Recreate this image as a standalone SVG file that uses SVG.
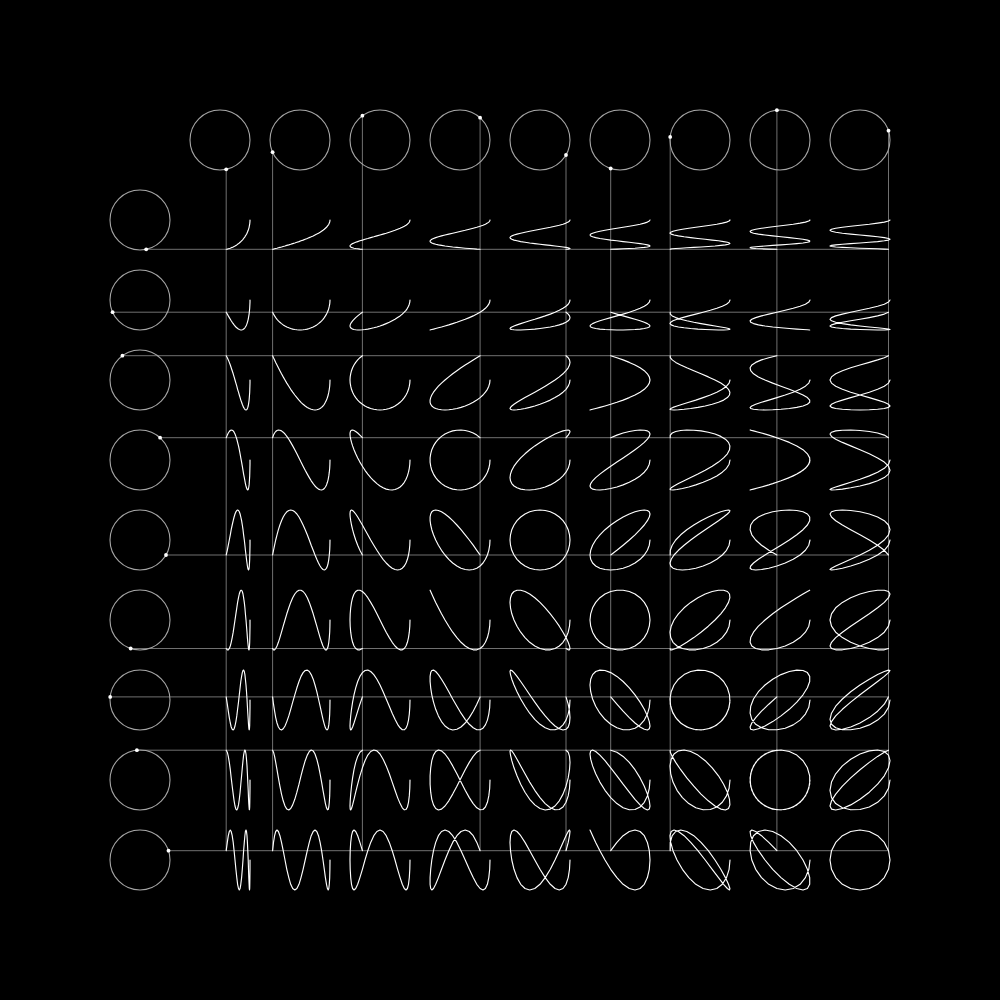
<svg xmlns="http://www.w3.org/2000/svg" width="1000" height="1000" viewBox="0 0 1000 1000">
<style>
.ring{fill:none;stroke:#a6a6a6;stroke-width:1.1}
.dot{fill:#fff}
#connectors line{stroke:#707070;stroke-width:1}
.cv{fill:none;stroke:#fff;stroke-width:1.15;stroke-linejoin:round;stroke-linecap:round}
</style>
<rect width="1000" height="1000" fill="#000"/>
<g id="connectors">
<line x1="226.2" y1="169.3" x2="226.2" y2="850.7"/>
<line x1="272.6" y1="152.2" x2="272.6" y2="850.7"/>
<line x1="362.4" y1="115.7" x2="362.4" y2="850.7"/>
<line x1="480.1" y1="117.7" x2="480.1" y2="850.7"/>
<line x1="566" y1="155" x2="566" y2="850.7"/>
<line x1="610.7" y1="168.5" x2="610.7" y2="850.7"/>
<line x1="670.2" y1="136.9" x2="670.2" y2="850.7"/>
<line x1="776.9" y1="110.2" x2="776.9" y2="850.7"/>
<line x1="888.5" y1="130.7" x2="888.5" y2="850.7"/>
<line x1="146.2" y1="249.3" x2="888.5" y2="249.3"/>
<line x1="112.6" y1="312.2" x2="888.5" y2="312.2"/>
<line x1="122.4" y1="355.7" x2="888.5" y2="355.7"/>
<line x1="160.1" y1="437.7" x2="888.5" y2="437.7"/>
<line x1="166" y1="555" x2="888.5" y2="555"/>
<line x1="130.7" y1="648.5" x2="888.5" y2="648.5"/>
<line x1="110.2" y1="696.9" x2="888.5" y2="696.9"/>
<line x1="136.9" y1="750.2" x2="888.5" y2="750.2"/>
<line x1="168.5" y1="850.7" x2="888.5" y2="850.7"/>
</g>
<g id="col-1"><circle class="ring" cx="220" cy="140" r="30"/><circle class="dot" cx="226.2" cy="169.3" r="1.9"/></g>
<g id="col-2"><circle class="ring" cx="300" cy="140" r="30"/><circle class="dot" cx="272.6" cy="152.2" r="1.9"/></g>
<g id="col-3"><circle class="ring" cx="380" cy="140" r="30"/><circle class="dot" cx="362.4" cy="115.7" r="1.9"/></g>
<g id="col-4"><circle class="ring" cx="460" cy="140" r="30"/><circle class="dot" cx="480.1" cy="117.7" r="1.9"/></g>
<g id="col-5"><circle class="ring" cx="540" cy="140" r="30"/><circle class="dot" cx="566" cy="155" r="1.9"/></g>
<g id="col-6"><circle class="ring" cx="620" cy="140" r="30"/><circle class="dot" cx="610.7" cy="168.5" r="1.9"/></g>
<g id="col-7"><circle class="ring" cx="700" cy="140" r="30"/><circle class="dot" cx="670.2" cy="136.9" r="1.9"/></g>
<g id="col-8"><circle class="ring" cx="780" cy="140" r="30"/><circle class="dot" cx="776.9" cy="110.2" r="1.9"/></g>
<g id="col-9"><circle class="ring" cx="860" cy="140" r="30"/><circle class="dot" cx="888.5" cy="130.7" r="1.9"/></g>
<g id="row-1"><circle class="ring" cx="140" cy="220" r="30"/><circle class="dot" cx="146.2" cy="249.3" r="1.9"/></g>
<g id="row-2"><circle class="ring" cx="140" cy="300" r="30"/><circle class="dot" cx="112.6" cy="312.2" r="1.9"/></g>
<g id="row-3"><circle class="ring" cx="140" cy="380" r="30"/><circle class="dot" cx="122.4" cy="355.7" r="1.9"/></g>
<g id="row-4"><circle class="ring" cx="140" cy="460" r="30"/><circle class="dot" cx="160.1" cy="437.7" r="1.9"/></g>
<g id="row-5"><circle class="ring" cx="140" cy="540" r="30"/><circle class="dot" cx="166" cy="555" r="1.9"/></g>
<g id="row-6"><circle class="ring" cx="140" cy="620" r="30"/><circle class="dot" cx="130.7" cy="648.5" r="1.9"/></g>
<g id="row-7"><circle class="ring" cx="140" cy="700" r="30"/><circle class="dot" cx="110.2" cy="696.9" r="1.9"/></g>
<g id="row-8"><circle class="ring" cx="140" cy="780" r="30"/><circle class="dot" cx="136.9" cy="750.2" r="1.9"/></g>
<g id="row-9"><circle class="ring" cx="140" cy="860" r="30"/><circle class="dot" cx="168.5" cy="850.7" r="1.9"/></g>

<g id="cell-1-1" transform="translate(220,220)"><polyline class="cv" points="30,0 30,1 29.9,2.1 29.8,3.1 29.7,4.2 29.5,5.2 29.3,6.2 29.1,7.3 28.8,8.3 28.5,9.3 28.2,10.3 27.8,11.2 27.4,12.2 27,13.2 26.5,14.1 26,15 25.4,15.9 24.9,16.8 24.3,17.6 23.6,18.5 23,19.3 22.3,20.1 21.6,20.8 20.8,21.6 20.1,22.3 19.3,23 18.5,23.6 17.6,24.3 16.8,24.9 15.9,25.4 15,26 14.1,26.5 13.2,27 12.2,27.4 11.2,27.8 10.3,28.2 9.3,28.5 8.3,28.8 7.3,29.1 6.2,29.3"/></g>
<g id="cell-2-1" transform="translate(300,220)"><polyline class="cv" points="30,0 29.9,1 29.7,2.1 29.3,3.1 28.8,4.2 28.2,5.2 27.4,6.2 26.5,7.3 25.4,8.3 24.3,9.3 23,10.3 21.6,11.2 20.1,12.2 18.5,13.2 16.8,14.1 15,15 13.2,15.9 11.2,16.8 9.3,17.6 7.3,18.5 5.2,19.3 3.1,20.1 1,20.8 -1,21.6 -3.1,22.3 -5.2,23 -7.3,23.6 -9.3,24.3 -11.2,24.9 -13.2,25.4 -15,26 -16.8,26.5 -18.5,27 -20.1,27.4 -21.6,27.8 -23,28.2 -24.3,28.5 -25.4,28.8 -26.5,29.1 -27.4,29.3"/></g>
<g id="cell-3-1" transform="translate(380,220)"><polyline class="cv" points="30,0 29.8,1 29.3,2.1 28.5,3.1 27.4,4.2 26,5.2 24.3,6.2 22.3,7.3 20.1,8.3 17.6,9.3 15,10.3 12.2,11.2 9.3,12.2 6.2,13.2 3.1,14.1 0,15 -3.1,15.9 -6.2,16.8 -9.3,17.6 -12.2,18.5 -15,19.3 -17.6,20.1 -20.1,20.8 -22.3,21.6 -24.3,22.3 -26,23 -27.4,23.6 -28.5,24.3 -29.3,24.9 -29.8,25.4 -30,26 -29.8,26.5 -29.3,27 -28.5,27.4 -27.4,27.8 -26,28.2 -24.3,28.5 -22.3,28.8 -20.1,29.1 -17.6,29.3"/></g>
<g id="cell-4-1" transform="translate(460,220)"><polyline class="cv" points="30,0 29.7,1 28.8,2.1 27.4,3.1 25.4,4.2 23,5.2 20.1,6.2 16.8,7.3 13.2,8.3 9.3,9.3 5.2,10.3 1,11.2 -3.1,12.2 -7.3,13.2 -11.2,14.1 -15,15 -18.5,15.9 -21.6,16.8 -24.3,17.6 -26.5,18.5 -28.2,19.3 -29.3,20.1 -29.9,20.8 -29.9,21.6 -29.3,22.3 -28.2,23 -26.5,23.6 -24.3,24.3 -21.6,24.9 -18.5,25.4 -15,26 -11.2,26.5 -7.3,27 -3.1,27.4 1,27.8 5.2,28.2 9.3,28.5 13.2,28.8 16.8,29.1 20.1,29.3"/></g>
<g id="cell-5-1" transform="translate(540,220)"><polyline class="cv" points="30,0 29.5,1 28.2,2.1 26,3.1 23,4.2 19.3,5.2 15,6.2 10.3,7.3 5.2,8.3 0,9.3 -5.2,10.3 -10.3,11.2 -15,12.2 -19.3,13.2 -23,14.1 -26,15 -28.2,15.9 -29.5,16.8 -30,17.6 -29.5,18.5 -28.2,19.3 -26,20.1 -23,20.8 -19.3,21.6 -15,22.3 -10.3,23 -5.2,23.6 0,24.3 5.2,24.9 10.3,25.4 15,26 19.3,26.5 23,27 26,27.4 28.2,27.8 29.5,28.2 30,28.5 29.5,28.8 28.2,29.1 26,29.3"/></g>
<g id="cell-6-1" transform="translate(620,220)"><polyline class="cv" points="30,0 29.3,1 27.4,2.1 24.3,3.1 20.1,4.2 15,5.2 9.3,6.2 3.1,7.3 -3.1,8.3 -9.3,9.3 -15,10.3 -20.1,11.2 -24.3,12.2 -27.4,13.2 -29.3,14.1 -30,15 -29.3,15.9 -27.4,16.8 -24.3,17.6 -20.1,18.5 -15,19.3 -9.3,20.1 -3.1,20.8 3.1,21.6 9.3,22.3 15,23 20.1,23.6 24.3,24.3 27.4,24.9 29.3,25.4 30,26 29.3,26.5 27.4,27 24.3,27.4 20.1,27.8 15,28.2 9.3,28.5 3.1,28.8 -3.1,29.1 -9.3,29.3"/></g>
<g id="cell-7-1" transform="translate(700,220)"><polyline class="cv" points="30,0 29.1,1 26.5,2.1 22.3,3.1 16.8,4.2 10.3,5.2 3.1,6.2 -4.2,7.3 -11.2,8.3 -17.6,9.3 -23,10.3 -27,11.2 -29.3,12.2 -30,13.2 -28.8,14.1 -26,15 -21.6,15.9 -15.9,16.8 -9.3,17.6 -2.1,18.5 5.2,19.3 12.2,20.1 18.5,20.8 23.6,21.6 27.4,22.3 29.5,23 29.9,23.6 28.5,24.3 25.4,24.9 20.8,25.4 15,26 8.3,26.5 1,27 -6.2,27.4 -13.2,27.8 -19.3,28.2 -24.3,28.5 -27.8,28.8 -29.7,29.1 -29.8,29.3"/></g>
<g id="cell-8-1" transform="translate(780,220)"><polyline class="cv" points="30,0 28.8,1 25.4,2.1 20.1,3.1 13.2,4.2 5.2,5.2 -3.1,6.2 -11.2,7.3 -18.5,8.3 -24.3,9.3 -28.2,10.3 -29.9,11.2 -29.3,12.2 -26.5,13.2 -21.6,14.1 -15,15 -7.3,15.9 1,16.8 9.3,17.6 16.8,18.5 23,19.3 27.4,20.1 29.7,20.8 29.7,21.6 27.4,22.3 23,23 16.8,23.6 9.3,24.3 1,24.9 -7.3,25.4 -15,26 -21.6,26.5 -26.5,27 -29.3,27.4 -29.9,27.8 -28.2,28.2 -24.3,28.5 -18.5,28.8 -11.2,29.1 -3.1,29.3"/></g>
<g id="cell-9-1" transform="translate(860,220)"><polyline class="cv" points="30,0 28.5,1 24.3,2.1 17.6,3.1 9.3,4.2 0,5.2 -9.3,6.2 -17.6,7.3 -24.3,8.3 -28.5,9.3 -30,10.3 -28.5,11.2 -24.3,12.2 -17.6,13.2 -9.3,14.1 0,15 9.3,15.9 17.6,16.8 24.3,17.6 28.5,18.5 30,19.3 28.5,20.1 24.3,20.8 17.6,21.6 9.3,22.3 0,23 -9.3,23.6 -17.6,24.3 -24.3,24.9 -28.5,25.4 -30,26 -28.5,26.5 -24.3,27 -17.6,27.4 -9.3,27.8 0,28.2 9.3,28.5 17.6,28.8 24.3,29.1 28.5,29.3"/></g>

<g id="cell-1-2" transform="translate(220,300)"><polyline class="cv" points="30,0 30,2.1 29.9,4.2 29.8,6.2 29.7,8.3 29.5,10.3 29.3,12.2 29.1,14.1 28.8,15.9 28.5,17.6 28.2,19.3 27.8,20.8 27.4,22.3 27,23.6 26.5,24.9 26,26 25.4,27 24.9,27.8 24.3,28.5 23.6,29.1 23,29.5 22.3,29.8 21.6,30 20.8,30 20.1,29.8 19.3,29.5 18.5,29.1 17.6,28.5 16.8,27.8 15.9,27 15,26 14.1,24.9 13.2,23.6 12.2,22.3 11.2,20.8 10.3,19.3 9.3,17.6 8.3,15.9 7.3,14.1 6.2,12.2"/></g>
<g id="cell-2-2" transform="translate(300,300)"><polyline class="cv" points="30,0 29.9,2.1 29.7,4.2 29.3,6.2 28.8,8.3 28.2,10.3 27.4,12.2 26.5,14.1 25.4,15.9 24.3,17.6 23,19.3 21.6,20.8 20.1,22.3 18.5,23.6 16.8,24.9 15,26 13.2,27 11.2,27.8 9.3,28.5 7.3,29.1 5.2,29.5 3.1,29.8 1,30 -1,30 -3.1,29.8 -5.2,29.5 -7.3,29.1 -9.3,28.5 -11.2,27.8 -13.2,27 -15,26 -16.8,24.9 -18.5,23.6 -20.1,22.3 -21.6,20.8 -23,19.3 -24.3,17.6 -25.4,15.9 -26.5,14.1 -27.4,12.2"/></g>
<g id="cell-3-2" transform="translate(380,300)"><polyline class="cv" points="30,0 29.8,2.1 29.3,4.2 28.5,6.2 27.4,8.3 26,10.3 24.3,12.2 22.3,14.1 20.1,15.9 17.6,17.6 15,19.3 12.2,20.8 9.3,22.3 6.2,23.6 3.1,24.9 0,26 -3.1,27 -6.2,27.8 -9.3,28.5 -12.2,29.1 -15,29.5 -17.6,29.8 -20.1,30 -22.3,30 -24.3,29.8 -26,29.5 -27.4,29.1 -28.5,28.5 -29.3,27.8 -29.8,27 -30,26 -29.8,24.9 -29.3,23.6 -28.5,22.3 -27.4,20.8 -26,19.3 -24.3,17.6 -22.3,15.9 -20.1,14.1 -17.6,12.2"/></g>
<g id="cell-4-2" transform="translate(460,300)"><polyline class="cv" points="30,0 29.7,2.1 28.8,4.2 27.4,6.2 25.4,8.3 23,10.3 20.1,12.2 16.8,14.1 13.2,15.9 9.3,17.6 5.2,19.3 1,20.8 -3.1,22.3 -7.3,23.6 -11.2,24.9 -15,26 -18.5,27 -21.6,27.8 -24.3,28.5 -26.5,29.1 -28.2,29.5 -29.3,29.8 -29.9,30 -29.9,30 -29.3,29.8 -28.2,29.5 -26.5,29.1 -24.3,28.5 -21.6,27.8 -18.5,27 -15,26 -11.2,24.9 -7.3,23.6 -3.1,22.3 1,20.8 5.2,19.3 9.3,17.6 13.2,15.9 16.8,14.1 20.1,12.2"/></g>
<g id="cell-5-2" transform="translate(540,300)"><polyline class="cv" points="30,0 29.5,2.1 28.2,4.2 26,6.2 23,8.3 19.3,10.3 15,12.2 10.3,14.1 5.2,15.9 0,17.6 -5.2,19.3 -10.3,20.8 -15,22.3 -19.3,23.6 -23,24.9 -26,26 -28.2,27 -29.5,27.8 -30,28.5 -29.5,29.1 -28.2,29.5 -26,29.8 -23,30 -19.3,30 -15,29.8 -10.3,29.5 -5.2,29.1 0,28.5 5.2,27.8 10.3,27 15,26 19.3,24.9 23,23.6 26,22.3 28.2,20.8 29.5,19.3 30,17.6 29.5,15.9 28.2,14.1 26,12.2"/></g>
<g id="cell-6-2" transform="translate(620,300)"><polyline class="cv" points="30,0 29.3,2.1 27.4,4.2 24.3,6.2 20.1,8.3 15,10.3 9.3,12.2 3.1,14.1 -3.1,15.9 -9.3,17.6 -15,19.3 -20.1,20.8 -24.3,22.3 -27.4,23.6 -29.3,24.9 -30,26 -29.3,27 -27.4,27.8 -24.3,28.5 -20.1,29.1 -15,29.5 -9.3,29.8 -3.1,30 3.1,30 9.3,29.8 15,29.5 20.1,29.1 24.3,28.5 27.4,27.8 29.3,27 30,26 29.3,24.9 27.4,23.6 24.3,22.3 20.1,20.8 15,19.3 9.3,17.6 3.1,15.9 -3.1,14.1 -9.3,12.2"/></g>
<g id="cell-7-2" transform="translate(700,300)"><polyline class="cv" points="30,0 29.1,2.1 26.5,4.2 22.3,6.2 16.8,8.3 10.3,10.3 3.1,12.2 -4.2,14.1 -11.2,15.9 -17.6,17.6 -23,19.3 -27,20.8 -29.3,22.3 -30,23.6 -28.8,24.9 -26,26 -21.6,27 -15.9,27.8 -9.3,28.5 -2.1,29.1 5.2,29.5 12.2,29.8 18.5,30 23.6,30 27.4,29.8 29.5,29.5 29.9,29.1 28.5,28.5 25.4,27.8 20.8,27 15,26 8.3,24.9 1,23.6 -6.2,22.3 -13.2,20.8 -19.3,19.3 -24.3,17.6 -27.8,15.9 -29.7,14.1 -29.8,12.2"/></g>
<g id="cell-8-2" transform="translate(780,300)"><polyline class="cv" points="30,0 28.8,2.1 25.4,4.2 20.1,6.2 13.2,8.3 5.2,10.3 -3.1,12.2 -11.2,14.1 -18.5,15.9 -24.3,17.6 -28.2,19.3 -29.9,20.8 -29.3,22.3 -26.5,23.6 -21.6,24.9 -15,26 -7.3,27 1,27.8 9.3,28.5 16.8,29.1 23,29.5 27.4,29.8 29.7,30 29.7,30 27.4,29.8 23,29.5 16.8,29.1 9.3,28.5 1,27.8 -7.3,27 -15,26 -21.6,24.9 -26.5,23.6 -29.3,22.3 -29.9,20.8 -28.2,19.3 -24.3,17.6 -18.5,15.9 -11.2,14.1 -3.1,12.2"/></g>
<g id="cell-9-2" transform="translate(860,300)"><polyline class="cv" points="30,0 28.5,2.1 24.3,4.2 17.6,6.2 9.3,8.3 0,10.3 -9.3,12.2 -17.6,14.1 -24.3,15.9 -28.5,17.6 -30,19.3 -28.5,20.8 -24.3,22.3 -17.6,23.6 -9.3,24.9 0,26 9.3,27 17.6,27.8 24.3,28.5 28.5,29.1 30,29.5 28.5,29.8 24.3,30 17.6,30 9.3,29.8 0,29.5 -9.3,29.1 -17.6,28.5 -24.3,27.8 -28.5,27 -30,26 -28.5,24.9 -24.3,23.6 -17.6,22.3 -9.3,20.8 0,19.3 9.3,17.6 17.6,15.9 24.3,14.1 28.5,12.2"/></g>

<g id="cell-1-3" transform="translate(220,380)"><polyline class="cv" points="30,0 30,3.1 29.9,6.2 29.8,9.3 29.7,12.2 29.5,15 29.3,17.6 29.1,20.1 28.8,22.3 28.5,24.3 28.2,26 27.8,27.4 27.4,28.5 27,29.3 26.5,29.8 26,30 25.4,29.8 24.9,29.3 24.3,28.5 23.6,27.4 23,26 22.3,24.3 21.6,22.3 20.8,20.1 20.1,17.6 19.3,15 18.5,12.2 17.6,9.3 16.8,6.2 15.9,3.1 15,0 14.1,-3.1 13.2,-6.2 12.2,-9.3 11.2,-12.2 10.3,-15 9.3,-17.6 8.3,-20.1 7.3,-22.3 6.2,-24.3"/></g>
<g id="cell-2-3" transform="translate(300,380)"><polyline class="cv" points="30,0 29.9,3.1 29.7,6.2 29.3,9.3 28.8,12.2 28.2,15 27.4,17.6 26.5,20.1 25.4,22.3 24.3,24.3 23,26 21.6,27.4 20.1,28.5 18.5,29.3 16.8,29.8 15,30 13.2,29.8 11.2,29.3 9.3,28.5 7.3,27.4 5.2,26 3.1,24.3 1,22.3 -1,20.1 -3.1,17.6 -5.2,15 -7.3,12.2 -9.3,9.3 -11.2,6.2 -13.2,3.1 -15,0 -16.8,-3.1 -18.5,-6.2 -20.1,-9.3 -21.6,-12.2 -23,-15 -24.3,-17.6 -25.4,-20.1 -26.5,-22.3 -27.4,-24.3"/></g>
<g id="cell-3-3" transform="translate(380,380)"><polyline class="cv" points="30,0 29.8,3.1 29.3,6.2 28.5,9.3 27.4,12.2 26,15 24.3,17.6 22.3,20.1 20.1,22.3 17.6,24.3 15,26 12.2,27.4 9.3,28.5 6.2,29.3 3.1,29.8 0,30 -3.1,29.8 -6.2,29.3 -9.3,28.5 -12.2,27.4 -15,26 -17.6,24.3 -20.1,22.3 -22.3,20.1 -24.3,17.6 -26,15 -27.4,12.2 -28.5,9.3 -29.3,6.2 -29.8,3.1 -30,0 -29.8,-3.1 -29.3,-6.2 -28.5,-9.3 -27.4,-12.2 -26,-15 -24.3,-17.6 -22.3,-20.1 -20.1,-22.3 -17.6,-24.3"/></g>
<g id="cell-4-3" transform="translate(460,380)"><polyline class="cv" points="30,0 29.7,3.1 28.8,6.2 27.4,9.3 25.4,12.2 23,15 20.1,17.6 16.8,20.1 13.2,22.3 9.3,24.3 5.2,26 1,27.4 -3.1,28.5 -7.3,29.3 -11.2,29.8 -15,30 -18.5,29.8 -21.6,29.3 -24.3,28.5 -26.5,27.4 -28.2,26 -29.3,24.3 -29.9,22.3 -29.9,20.1 -29.3,17.6 -28.2,15 -26.5,12.2 -24.3,9.3 -21.6,6.2 -18.5,3.1 -15,0 -11.2,-3.1 -7.3,-6.2 -3.1,-9.3 1,-12.2 5.2,-15 9.3,-17.6 13.2,-20.1 16.8,-22.3 20.1,-24.3"/></g>
<g id="cell-5-3" transform="translate(540,380)"><polyline class="cv" points="30,0 29.5,3.1 28.2,6.2 26,9.3 23,12.2 19.3,15 15,17.6 10.3,20.1 5.2,22.3 0,24.3 -5.2,26 -10.3,27.4 -15,28.5 -19.3,29.3 -23,29.8 -26,30 -28.2,29.8 -29.5,29.3 -30,28.5 -29.5,27.4 -28.2,26 -26,24.3 -23,22.3 -19.3,20.1 -15,17.6 -10.3,15 -5.2,12.2 0,9.3 5.2,6.2 10.3,3.1 15,0 19.3,-3.1 23,-6.2 26,-9.3 28.2,-12.2 29.5,-15 30,-17.6 29.5,-20.1 28.2,-22.3 26,-24.3"/></g>
<g id="cell-6-3" transform="translate(620,380)"><polyline class="cv" points="30,0 29.3,3.1 27.4,6.2 24.3,9.3 20.1,12.2 15,15 9.3,17.6 3.1,20.1 -3.1,22.3 -9.3,24.3 -15,26 -20.1,27.4 -24.3,28.5 -27.4,29.3 -29.3,29.8 -30,30 -29.3,29.8 -27.4,29.3 -24.3,28.5 -20.1,27.4 -15,26 -9.3,24.3 -3.1,22.3 3.1,20.1 9.3,17.6 15,15 20.1,12.2 24.3,9.3 27.4,6.2 29.3,3.1 30,0 29.3,-3.1 27.4,-6.2 24.3,-9.3 20.1,-12.2 15,-15 9.3,-17.6 3.1,-20.1 -3.1,-22.3 -9.3,-24.3"/></g>
<g id="cell-7-3" transform="translate(700,380)"><polyline class="cv" points="30,0 29.1,3.1 26.5,6.2 22.3,9.3 16.8,12.2 10.3,15 3.1,17.6 -4.2,20.1 -11.2,22.3 -17.6,24.3 -23,26 -27,27.4 -29.3,28.5 -30,29.3 -28.8,29.8 -26,30 -21.6,29.8 -15.9,29.3 -9.3,28.5 -2.1,27.4 5.2,26 12.2,24.3 18.5,22.3 23.6,20.1 27.4,17.6 29.5,15 29.9,12.2 28.5,9.3 25.4,6.2 20.8,3.1 15,0 8.3,-3.1 1,-6.2 -6.2,-9.3 -13.2,-12.2 -19.3,-15 -24.3,-17.6 -27.8,-20.1 -29.7,-22.3 -29.8,-24.3"/></g>
<g id="cell-8-3" transform="translate(780,380)"><polyline class="cv" points="30,0 28.8,3.1 25.4,6.2 20.1,9.3 13.2,12.2 5.2,15 -3.1,17.6 -11.2,20.1 -18.5,22.3 -24.3,24.3 -28.2,26 -29.9,27.4 -29.3,28.5 -26.5,29.3 -21.6,29.8 -15,30 -7.3,29.8 1,29.3 9.3,28.5 16.8,27.4 23,26 27.4,24.3 29.7,22.3 29.7,20.1 27.4,17.6 23,15 16.8,12.2 9.3,9.3 1,6.2 -7.3,3.1 -15,0 -21.6,-3.1 -26.5,-6.2 -29.3,-9.3 -29.9,-12.2 -28.2,-15 -24.3,-17.6 -18.5,-20.1 -11.2,-22.3 -3.1,-24.3"/></g>
<g id="cell-9-3" transform="translate(860,380)"><polyline class="cv" points="30,0 28.5,3.1 24.3,6.2 17.6,9.3 9.3,12.2 0,15 -9.3,17.6 -17.6,20.1 -24.3,22.3 -28.5,24.3 -30,26 -28.5,27.4 -24.3,28.5 -17.6,29.3 -9.3,29.8 0,30 9.3,29.8 17.6,29.3 24.3,28.5 28.5,27.4 30,26 28.5,24.3 24.3,22.3 17.6,20.1 9.3,17.6 0,15 -9.3,12.2 -17.6,9.3 -24.3,6.2 -28.5,3.1 -30,0 -28.5,-3.1 -24.3,-6.2 -17.6,-9.3 -9.3,-12.2 0,-15 9.3,-17.6 17.6,-20.1 24.3,-22.3 28.5,-24.3"/></g>

<g id="cell-1-4" transform="translate(220,460)"><polyline class="cv" points="30,0 30,4.2 29.9,8.3 29.8,12.2 29.7,15.9 29.5,19.3 29.3,22.3 29.1,24.9 28.8,27 28.5,28.5 28.2,29.5 27.8,30 27.4,29.8 27,29.1 26.5,27.8 26,26 25.4,23.6 24.9,20.8 24.3,17.6 23.6,14.1 23,10.3 22.3,6.2 21.6,2.1 20.8,-2.1 20.1,-6.2 19.3,-10.3 18.5,-14.1 17.6,-17.6 16.8,-20.8 15.9,-23.6 15,-26 14.1,-27.8 13.2,-29.1 12.2,-29.8 11.2,-30 10.3,-29.5 9.3,-28.5 8.3,-27 7.3,-24.9 6.2,-22.3"/></g>
<g id="cell-2-4" transform="translate(300,460)"><polyline class="cv" points="30,0 29.9,4.2 29.7,8.3 29.3,12.2 28.8,15.9 28.2,19.3 27.4,22.3 26.5,24.9 25.4,27 24.3,28.5 23,29.5 21.6,30 20.1,29.8 18.5,29.1 16.8,27.8 15,26 13.2,23.6 11.2,20.8 9.3,17.6 7.3,14.1 5.2,10.3 3.1,6.2 1,2.1 -1,-2.1 -3.1,-6.2 -5.2,-10.3 -7.3,-14.1 -9.3,-17.6 -11.2,-20.8 -13.2,-23.6 -15,-26 -16.8,-27.8 -18.5,-29.1 -20.1,-29.8 -21.6,-30 -23,-29.5 -24.3,-28.5 -25.4,-27 -26.5,-24.9 -27.4,-22.3"/></g>
<g id="cell-3-4" transform="translate(380,460)"><polyline class="cv" points="30,0 29.8,4.2 29.3,8.3 28.5,12.2 27.4,15.9 26,19.3 24.3,22.3 22.3,24.9 20.1,27 17.6,28.5 15,29.5 12.2,30 9.3,29.8 6.2,29.1 3.1,27.8 0,26 -3.1,23.6 -6.2,20.8 -9.3,17.6 -12.2,14.1 -15,10.3 -17.6,6.2 -20.1,2.1 -22.3,-2.1 -24.3,-6.2 -26,-10.3 -27.4,-14.1 -28.5,-17.6 -29.3,-20.8 -29.8,-23.6 -30,-26 -29.8,-27.8 -29.3,-29.1 -28.5,-29.8 -27.4,-30 -26,-29.5 -24.3,-28.5 -22.3,-27 -20.1,-24.9 -17.6,-22.3"/></g>
<g id="cell-4-4" transform="translate(460,460)"><polyline class="cv" points="30,0 29.7,4.2 28.8,8.3 27.4,12.2 25.4,15.9 23,19.3 20.1,22.3 16.8,24.9 13.2,27 9.3,28.5 5.2,29.5 1,30 -3.1,29.8 -7.3,29.1 -11.2,27.8 -15,26 -18.5,23.6 -21.6,20.8 -24.3,17.6 -26.5,14.1 -28.2,10.3 -29.3,6.2 -29.9,2.1 -29.9,-2.1 -29.3,-6.2 -28.2,-10.3 -26.5,-14.1 -24.3,-17.6 -21.6,-20.8 -18.5,-23.6 -15,-26 -11.2,-27.8 -7.3,-29.1 -3.1,-29.8 1,-30 5.2,-29.5 9.3,-28.5 13.2,-27 16.8,-24.9 20.1,-22.3"/></g>
<g id="cell-5-4" transform="translate(540,460)"><polyline class="cv" points="30,0 29.5,4.2 28.2,8.3 26,12.2 23,15.9 19.3,19.3 15,22.3 10.3,24.9 5.2,27 0,28.5 -5.2,29.5 -10.3,30 -15,29.8 -19.3,29.1 -23,27.8 -26,26 -28.2,23.6 -29.5,20.8 -30,17.6 -29.5,14.1 -28.2,10.3 -26,6.2 -23,2.1 -19.3,-2.1 -15,-6.2 -10.3,-10.3 -5.2,-14.1 0,-17.6 5.2,-20.8 10.3,-23.6 15,-26 19.3,-27.8 23,-29.1 26,-29.8 28.2,-30 29.5,-29.5 30,-28.5 29.5,-27 28.2,-24.9 26,-22.3"/></g>
<g id="cell-6-4" transform="translate(620,460)"><polyline class="cv" points="30,0 29.3,4.2 27.4,8.3 24.3,12.2 20.1,15.9 15,19.3 9.3,22.3 3.1,24.9 -3.1,27 -9.3,28.5 -15,29.5 -20.1,30 -24.3,29.8 -27.4,29.1 -29.3,27.8 -30,26 -29.3,23.6 -27.4,20.8 -24.3,17.6 -20.1,14.1 -15,10.3 -9.3,6.2 -3.1,2.1 3.1,-2.1 9.3,-6.2 15,-10.3 20.1,-14.1 24.3,-17.6 27.4,-20.8 29.3,-23.6 30,-26 29.3,-27.8 27.4,-29.1 24.3,-29.8 20.1,-30 15,-29.5 9.3,-28.5 3.1,-27 -3.1,-24.9 -9.3,-22.3"/></g>
<g id="cell-7-4" transform="translate(700,460)"><polyline class="cv" points="30,0 29.1,4.2 26.5,8.3 22.3,12.2 16.8,15.9 10.3,19.3 3.1,22.3 -4.2,24.9 -11.2,27 -17.6,28.5 -23,29.5 -27,30 -29.3,29.8 -30,29.1 -28.8,27.8 -26,26 -21.6,23.6 -15.9,20.8 -9.3,17.6 -2.1,14.1 5.2,10.3 12.2,6.2 18.5,2.1 23.6,-2.1 27.4,-6.2 29.5,-10.3 29.9,-14.1 28.5,-17.6 25.4,-20.8 20.8,-23.6 15,-26 8.3,-27.8 1,-29.1 -6.2,-29.8 -13.2,-30 -19.3,-29.5 -24.3,-28.5 -27.8,-27 -29.7,-24.9 -29.8,-22.3"/></g>
<g id="cell-8-4" transform="translate(780,460)"><polyline class="cv" points="30,0 28.8,4.2 25.4,8.3 20.1,12.2 13.2,15.9 5.2,19.3 -3.1,22.3 -11.2,24.9 -18.5,27 -24.3,28.5 -28.2,29.5 -29.9,30 -29.3,29.8 -26.5,29.1 -21.6,27.8 -15,26 -7.3,23.6 1,20.8 9.3,17.6 16.8,14.1 23,10.3 27.4,6.2 29.7,2.1 29.7,-2.1 27.4,-6.2 23,-10.3 16.8,-14.1 9.3,-17.6 1,-20.8 -7.3,-23.6 -15,-26 -21.6,-27.8 -26.5,-29.1 -29.3,-29.8 -29.9,-30 -28.2,-29.5 -24.3,-28.5 -18.5,-27 -11.2,-24.9 -3.1,-22.3"/></g>
<g id="cell-9-4" transform="translate(860,460)"><polyline class="cv" points="30,0 28.5,4.2 24.3,8.3 17.6,12.2 9.3,15.9 0,19.3 -9.3,22.3 -17.6,24.9 -24.3,27 -28.5,28.5 -30,29.5 -28.5,30 -24.3,29.8 -17.6,29.1 -9.3,27.8 0,26 9.3,23.6 17.6,20.8 24.3,17.6 28.5,14.1 30,10.3 28.5,6.2 24.3,2.1 17.6,-2.1 9.3,-6.2 0,-10.3 -9.3,-14.1 -17.6,-17.6 -24.3,-20.8 -28.5,-23.6 -30,-26 -28.5,-27.8 -24.3,-29.1 -17.6,-29.8 -9.3,-30 0,-29.5 9.3,-28.5 17.6,-27 24.3,-24.9 28.5,-22.3"/></g>

<g id="cell-1-5" transform="translate(220,540)"><polyline class="cv" points="30,0 30,5.2 29.9,10.3 29.8,15 29.7,19.3 29.5,23 29.3,26 29.1,28.2 28.8,29.5 28.5,30 28.2,29.5 27.8,28.2 27.4,26 27,23 26.5,19.3 26,15 25.4,10.3 24.9,5.2 24.3,0 23.6,-5.2 23,-10.3 22.3,-15 21.6,-19.3 20.8,-23 20.1,-26 19.3,-28.2 18.5,-29.5 17.6,-30 16.8,-29.5 15.9,-28.2 15,-26 14.1,-23 13.2,-19.3 12.2,-15 11.2,-10.3 10.3,-5.2 9.3,0 8.3,5.2 7.3,10.3 6.2,15"/></g>
<g id="cell-2-5" transform="translate(300,540)"><polyline class="cv" points="30,0 29.9,5.2 29.7,10.3 29.3,15 28.8,19.3 28.2,23 27.4,26 26.5,28.2 25.4,29.5 24.3,30 23,29.5 21.6,28.2 20.1,26 18.5,23 16.8,19.3 15,15 13.2,10.3 11.2,5.2 9.3,0 7.3,-5.2 5.2,-10.3 3.1,-15 1,-19.3 -1,-23 -3.1,-26 -5.2,-28.2 -7.3,-29.5 -9.3,-30 -11.2,-29.5 -13.2,-28.2 -15,-26 -16.8,-23 -18.5,-19.3 -20.1,-15 -21.6,-10.3 -23,-5.2 -24.3,0 -25.4,5.2 -26.5,10.3 -27.4,15"/></g>
<g id="cell-3-5" transform="translate(380,540)"><polyline class="cv" points="30,0 29.8,5.2 29.3,10.3 28.5,15 27.4,19.3 26,23 24.3,26 22.3,28.2 20.1,29.5 17.6,30 15,29.5 12.2,28.2 9.3,26 6.2,23 3.1,19.3 0,15 -3.1,10.3 -6.2,5.2 -9.3,0 -12.2,-5.2 -15,-10.3 -17.6,-15 -20.1,-19.3 -22.3,-23 -24.3,-26 -26,-28.2 -27.4,-29.5 -28.5,-30 -29.3,-29.5 -29.8,-28.2 -30,-26 -29.8,-23 -29.3,-19.3 -28.5,-15 -27.4,-10.3 -26,-5.2 -24.3,0 -22.3,5.2 -20.1,10.3 -17.6,15"/></g>
<g id="cell-4-5" transform="translate(460,540)"><polyline class="cv" points="30,0 29.7,5.2 28.8,10.3 27.4,15 25.4,19.3 23,23 20.1,26 16.8,28.2 13.2,29.5 9.3,30 5.2,29.5 1,28.2 -3.1,26 -7.3,23 -11.2,19.3 -15,15 -18.5,10.3 -21.6,5.2 -24.3,0 -26.5,-5.2 -28.2,-10.3 -29.3,-15 -29.9,-19.3 -29.9,-23 -29.3,-26 -28.2,-28.2 -26.5,-29.5 -24.3,-30 -21.6,-29.5 -18.5,-28.2 -15,-26 -11.2,-23 -7.3,-19.3 -3.1,-15 1,-10.3 5.2,-5.2 9.3,0 13.2,5.2 16.8,10.3 20.1,15"/></g>
<g id="cell-5-5" transform="translate(540,540)"><polyline class="cv" points="30,0 29.5,5.2 28.2,10.3 26,15 23,19.3 19.3,23 15,26 10.3,28.2 5.2,29.5 0,30 -5.2,29.5 -10.3,28.2 -15,26 -19.3,23 -23,19.3 -26,15 -28.2,10.3 -29.5,5.2 -30,0 -29.5,-5.2 -28.2,-10.3 -26,-15 -23,-19.3 -19.3,-23 -15,-26 -10.3,-28.2 -5.2,-29.5 0,-30 5.2,-29.5 10.3,-28.2 15,-26 19.3,-23 23,-19.3 26,-15 28.2,-10.3 29.5,-5.2 30,0 29.5,5.2 28.2,10.3 26,15"/></g>
<g id="cell-6-5" transform="translate(620,540)"><polyline class="cv" points="30,0 29.3,5.2 27.4,10.3 24.3,15 20.1,19.3 15,23 9.3,26 3.1,28.2 -3.1,29.5 -9.3,30 -15,29.5 -20.1,28.2 -24.3,26 -27.4,23 -29.3,19.3 -30,15 -29.3,10.3 -27.4,5.2 -24.3,0 -20.1,-5.2 -15,-10.3 -9.3,-15 -3.1,-19.3 3.1,-23 9.3,-26 15,-28.2 20.1,-29.5 24.3,-30 27.4,-29.5 29.3,-28.2 30,-26 29.3,-23 27.4,-19.3 24.3,-15 20.1,-10.3 15,-5.2 9.3,0 3.1,5.2 -3.1,10.3 -9.3,15"/></g>
<g id="cell-7-5" transform="translate(700,540)"><polyline class="cv" points="30,0 29.1,5.2 26.5,10.3 22.3,15 16.8,19.3 10.3,23 3.1,26 -4.2,28.2 -11.2,29.5 -17.6,30 -23,29.5 -27,28.2 -29.3,26 -30,23 -28.8,19.3 -26,15 -21.6,10.3 -15.9,5.2 -9.3,0 -2.1,-5.2 5.2,-10.3 12.2,-15 18.5,-19.3 23.6,-23 27.4,-26 29.5,-28.2 29.9,-29.5 28.5,-30 25.4,-29.5 20.8,-28.2 15,-26 8.3,-23 1,-19.3 -6.2,-15 -13.2,-10.3 -19.3,-5.2 -24.3,0 -27.8,5.2 -29.7,10.3 -29.8,15"/></g>
<g id="cell-8-5" transform="translate(780,540)"><polyline class="cv" points="30,0 28.8,5.2 25.4,10.3 20.1,15 13.2,19.3 5.2,23 -3.1,26 -11.2,28.2 -18.5,29.5 -24.3,30 -28.2,29.5 -29.9,28.2 -29.3,26 -26.5,23 -21.6,19.3 -15,15 -7.3,10.3 1,5.2 9.3,0 16.8,-5.2 23,-10.3 27.4,-15 29.7,-19.3 29.7,-23 27.4,-26 23,-28.2 16.8,-29.5 9.3,-30 1,-29.5 -7.3,-28.2 -15,-26 -21.6,-23 -26.5,-19.3 -29.3,-15 -29.9,-10.3 -28.2,-5.2 -24.3,0 -18.5,5.2 -11.2,10.3 -3.1,15"/></g>
<g id="cell-9-5" transform="translate(860,540)"><polyline class="cv" points="30,0 28.5,5.2 24.3,10.3 17.6,15 9.3,19.3 0,23 -9.3,26 -17.6,28.2 -24.3,29.5 -28.5,30 -30,29.5 -28.5,28.2 -24.3,26 -17.6,23 -9.3,19.3 0,15 9.3,10.3 17.6,5.2 24.3,0 28.5,-5.2 30,-10.3 28.5,-15 24.3,-19.3 17.6,-23 9.3,-26 0,-28.2 -9.3,-29.5 -17.6,-30 -24.3,-29.5 -28.5,-28.2 -30,-26 -28.5,-23 -24.3,-19.3 -17.6,-15 -9.3,-10.3 0,-5.2 9.3,0 17.6,5.2 24.3,10.3 28.5,15"/></g>

<g id="cell-1-6" transform="translate(220,620)"><polyline class="cv" points="30,0 30,6.2 29.9,12.2 29.8,17.6 29.7,22.3 29.5,26 29.3,28.5 29.1,29.8 28.8,29.8 28.5,28.5 28.2,26 27.8,22.3 27.4,17.6 27,12.2 26.5,6.2 26,0 25.4,-6.2 24.9,-12.2 24.3,-17.6 23.6,-22.3 23,-26 22.3,-28.5 21.6,-29.8 20.8,-29.8 20.1,-28.5 19.3,-26 18.5,-22.3 17.6,-17.6 16.8,-12.2 15.9,-6.2 15,0 14.1,6.2 13.2,12.2 12.2,17.6 11.2,22.3 10.3,26 9.3,28.5 8.3,29.8 7.3,29.8 6.2,28.5"/></g>
<g id="cell-2-6" transform="translate(300,620)"><polyline class="cv" points="30,0 29.9,6.2 29.7,12.2 29.3,17.6 28.8,22.3 28.2,26 27.4,28.5 26.5,29.8 25.4,29.8 24.3,28.5 23,26 21.6,22.3 20.1,17.6 18.5,12.2 16.8,6.2 15,0 13.2,-6.2 11.2,-12.2 9.3,-17.6 7.3,-22.3 5.2,-26 3.1,-28.5 1,-29.8 -1,-29.8 -3.1,-28.5 -5.2,-26 -7.3,-22.3 -9.3,-17.6 -11.2,-12.2 -13.2,-6.2 -15,0 -16.8,6.2 -18.5,12.2 -20.1,17.6 -21.6,22.3 -23,26 -24.3,28.5 -25.4,29.8 -26.5,29.8 -27.4,28.5"/></g>
<g id="cell-3-6" transform="translate(380,620)"><polyline class="cv" points="30,0 29.8,6.2 29.3,12.2 28.5,17.6 27.4,22.3 26,26 24.3,28.5 22.3,29.8 20.1,29.8 17.6,28.5 15,26 12.2,22.3 9.3,17.6 6.2,12.2 3.1,6.2 0,0 -3.1,-6.2 -6.2,-12.2 -9.3,-17.6 -12.2,-22.3 -15,-26 -17.6,-28.5 -20.1,-29.8 -22.3,-29.8 -24.3,-28.5 -26,-26 -27.4,-22.3 -28.5,-17.6 -29.3,-12.2 -29.8,-6.2 -30,0 -29.8,6.2 -29.3,12.2 -28.5,17.6 -27.4,22.3 -26,26 -24.3,28.5 -22.3,29.8 -20.1,29.8 -17.6,28.5"/></g>
<g id="cell-4-6" transform="translate(460,620)"><polyline class="cv" points="30,0 29.7,6.2 28.8,12.2 27.4,17.6 25.4,22.3 23,26 20.1,28.5 16.8,29.8 13.2,29.8 9.3,28.5 5.2,26 1,22.3 -3.1,17.6 -7.3,12.2 -11.2,6.2 -15,0 -18.5,-6.2 -21.6,-12.2 -24.3,-17.6 -26.5,-22.3 -28.2,-26 -29.3,-28.5 -29.9,-29.8 -29.9,-29.8 -29.3,-28.5 -28.2,-26 -26.5,-22.3 -24.3,-17.6 -21.6,-12.2 -18.5,-6.2 -15,0 -11.2,6.2 -7.3,12.2 -3.1,17.6 1,22.3 5.2,26 9.3,28.5 13.2,29.8 16.8,29.8 20.1,28.5"/></g>
<g id="cell-5-6" transform="translate(540,620)"><polyline class="cv" points="30,0 29.5,6.2 28.2,12.2 26,17.6 23,22.3 19.3,26 15,28.5 10.3,29.8 5.2,29.8 0,28.5 -5.2,26 -10.3,22.3 -15,17.6 -19.3,12.2 -23,6.2 -26,0 -28.2,-6.2 -29.5,-12.2 -30,-17.6 -29.5,-22.3 -28.2,-26 -26,-28.5 -23,-29.8 -19.3,-29.8 -15,-28.5 -10.3,-26 -5.2,-22.3 0,-17.6 5.2,-12.2 10.3,-6.2 15,0 19.3,6.2 23,12.2 26,17.6 28.2,22.3 29.5,26 30,28.5 29.5,29.8 28.2,29.8 26,28.5"/></g>
<g id="cell-6-6" transform="translate(620,620)"><polyline class="cv" points="30,0 29.3,6.2 27.4,12.2 24.3,17.6 20.1,22.3 15,26 9.3,28.5 3.1,29.8 -3.1,29.8 -9.3,28.5 -15,26 -20.1,22.3 -24.3,17.6 -27.4,12.2 -29.3,6.2 -30,0 -29.3,-6.2 -27.4,-12.2 -24.3,-17.6 -20.1,-22.3 -15,-26 -9.3,-28.5 -3.1,-29.8 3.1,-29.8 9.3,-28.5 15,-26 20.1,-22.3 24.3,-17.6 27.4,-12.2 29.3,-6.2 30,0 29.3,6.2 27.4,12.2 24.3,17.6 20.1,22.3 15,26 9.3,28.5 3.1,29.8 -3.1,29.8 -9.3,28.5"/></g>
<g id="cell-7-6" transform="translate(700,620)"><polyline class="cv" points="30,0 29.1,6.2 26.5,12.2 22.3,17.6 16.8,22.3 10.3,26 3.1,28.5 -4.2,29.8 -11.2,29.8 -17.6,28.5 -23,26 -27,22.3 -29.3,17.6 -30,12.2 -28.8,6.2 -26,0 -21.6,-6.2 -15.9,-12.2 -9.3,-17.6 -2.1,-22.3 5.2,-26 12.2,-28.5 18.5,-29.8 23.6,-29.8 27.4,-28.5 29.5,-26 29.9,-22.3 28.5,-17.6 25.4,-12.2 20.8,-6.2 15,0 8.3,6.2 1,12.2 -6.2,17.6 -13.2,22.3 -19.3,26 -24.3,28.5 -27.8,29.8 -29.7,29.8 -29.8,28.5"/></g>
<g id="cell-8-6" transform="translate(780,620)"><polyline class="cv" points="30,0 28.8,6.2 25.4,12.2 20.1,17.6 13.2,22.3 5.2,26 -3.1,28.5 -11.2,29.8 -18.5,29.8 -24.3,28.5 -28.2,26 -29.9,22.3 -29.3,17.6 -26.5,12.2 -21.6,6.2 -15,0 -7.3,-6.2 1,-12.2 9.3,-17.6 16.8,-22.3 23,-26 27.4,-28.5 29.7,-29.8 29.7,-29.8 27.4,-28.5 23,-26 16.8,-22.3 9.3,-17.6 1,-12.2 -7.3,-6.2 -15,0 -21.6,6.2 -26.5,12.2 -29.3,17.6 -29.9,22.3 -28.2,26 -24.3,28.5 -18.5,29.8 -11.2,29.8 -3.1,28.5"/></g>
<g id="cell-9-6" transform="translate(860,620)"><polyline class="cv" points="30,0 28.5,6.2 24.3,12.2 17.6,17.6 9.3,22.3 0,26 -9.3,28.5 -17.6,29.8 -24.3,29.8 -28.5,28.5 -30,26 -28.5,22.3 -24.3,17.6 -17.6,12.2 -9.3,6.2 0,0 9.3,-6.2 17.6,-12.2 24.3,-17.6 28.5,-22.3 30,-26 28.5,-28.5 24.3,-29.8 17.6,-29.8 9.3,-28.5 0,-26 -9.3,-22.3 -17.6,-17.6 -24.3,-12.2 -28.5,-6.2 -30,0 -28.5,6.2 -24.3,12.2 -17.6,17.6 -9.3,22.3 0,26 9.3,28.5 17.6,29.8 24.3,29.8 28.5,28.5"/></g>

<g id="cell-1-7" transform="translate(220,700)"><polyline class="cv" points="30,0 30,7.3 29.9,14.1 29.8,20.1 29.7,24.9 29.5,28.2 29.3,29.8 29.1,29.7 28.8,27.8 28.5,24.3 28.2,19.3 27.8,13.2 27.4,6.2 27,-1 26.5,-8.3 26,-15 25.4,-20.8 24.9,-25.4 24.3,-28.5 23.6,-29.9 23,-29.5 22.3,-27.4 21.6,-23.6 20.8,-18.5 20.1,-12.2 19.3,-5.2 18.5,2.1 17.6,9.3 16.8,15.9 15.9,21.6 15,26 14.1,28.8 13.2,30 12.2,29.3 11.2,27 10.3,23 9.3,17.6 8.3,11.2 7.3,4.2 6.2,-3.1"/></g>
<g id="cell-2-7" transform="translate(300,700)"><polyline class="cv" points="30,0 29.9,7.3 29.7,14.1 29.3,20.1 28.8,24.9 28.2,28.2 27.4,29.8 26.5,29.7 25.4,27.8 24.3,24.3 23,19.3 21.6,13.2 20.1,6.2 18.5,-1 16.8,-8.3 15,-15 13.2,-20.8 11.2,-25.4 9.3,-28.5 7.3,-29.9 5.2,-29.5 3.1,-27.4 1,-23.6 -1,-18.5 -3.1,-12.2 -5.2,-5.2 -7.3,2.1 -9.3,9.3 -11.2,15.9 -13.2,21.6 -15,26 -16.8,28.8 -18.5,30 -20.1,29.3 -21.6,27 -23,23 -24.3,17.6 -25.4,11.2 -26.5,4.2 -27.4,-3.1"/></g>
<g id="cell-3-7" transform="translate(380,700)"><polyline class="cv" points="30,0 29.8,7.3 29.3,14.1 28.5,20.1 27.4,24.9 26,28.2 24.3,29.8 22.3,29.7 20.1,27.8 17.6,24.3 15,19.3 12.2,13.2 9.3,6.2 6.2,-1 3.1,-8.3 0,-15 -3.1,-20.8 -6.2,-25.4 -9.3,-28.5 -12.2,-29.9 -15,-29.5 -17.6,-27.4 -20.1,-23.6 -22.3,-18.5 -24.3,-12.2 -26,-5.2 -27.4,2.1 -28.5,9.3 -29.3,15.9 -29.8,21.6 -30,26 -29.8,28.8 -29.3,30 -28.5,29.3 -27.4,27 -26,23 -24.3,17.6 -22.3,11.2 -20.1,4.2 -17.6,-3.1"/></g>
<g id="cell-4-7" transform="translate(460,700)"><polyline class="cv" points="30,0 29.7,7.3 28.8,14.1 27.4,20.1 25.4,24.9 23,28.2 20.1,29.8 16.8,29.7 13.2,27.8 9.3,24.3 5.2,19.3 1,13.2 -3.1,6.2 -7.3,-1 -11.2,-8.3 -15,-15 -18.5,-20.8 -21.6,-25.4 -24.3,-28.5 -26.5,-29.9 -28.2,-29.5 -29.3,-27.4 -29.9,-23.6 -29.9,-18.5 -29.3,-12.2 -28.2,-5.2 -26.5,2.1 -24.3,9.3 -21.6,15.9 -18.5,21.6 -15,26 -11.2,28.8 -7.3,30 -3.1,29.3 1,27 5.2,23 9.3,17.6 13.2,11.2 16.8,4.2 20.1,-3.1"/></g>
<g id="cell-5-7" transform="translate(540,700)"><polyline class="cv" points="30,0 29.5,7.3 28.2,14.1 26,20.1 23,24.9 19.3,28.2 15,29.8 10.3,29.7 5.2,27.8 0,24.3 -5.2,19.3 -10.3,13.2 -15,6.2 -19.3,-1 -23,-8.3 -26,-15 -28.2,-20.8 -29.5,-25.4 -30,-28.5 -29.5,-29.9 -28.2,-29.5 -26,-27.4 -23,-23.6 -19.3,-18.5 -15,-12.2 -10.3,-5.2 -5.2,2.1 0,9.3 5.2,15.9 10.3,21.6 15,26 19.3,28.8 23,30 26,29.3 28.2,27 29.5,23 30,17.6 29.5,11.2 28.2,4.2 26,-3.1"/></g>
<g id="cell-6-7" transform="translate(620,700)"><polyline class="cv" points="30,0 29.3,7.3 27.4,14.1 24.3,20.1 20.1,24.9 15,28.2 9.3,29.8 3.1,29.7 -3.1,27.8 -9.3,24.3 -15,19.3 -20.1,13.2 -24.3,6.2 -27.4,-1 -29.3,-8.3 -30,-15 -29.3,-20.8 -27.4,-25.4 -24.3,-28.5 -20.1,-29.9 -15,-29.5 -9.3,-27.4 -3.1,-23.6 3.1,-18.5 9.3,-12.2 15,-5.2 20.1,2.1 24.3,9.3 27.4,15.9 29.3,21.6 30,26 29.3,28.8 27.4,30 24.3,29.3 20.1,27 15,23 9.3,17.6 3.1,11.2 -3.1,4.2 -9.3,-3.1"/></g>
<g id="cell-7-7" transform="translate(700,700)"><polyline class="cv" points="30,0 29.1,7.3 26.5,14.1 22.3,20.1 16.8,24.9 10.3,28.2 3.1,29.8 -4.2,29.7 -11.2,27.8 -17.6,24.3 -23,19.3 -27,13.2 -29.3,6.2 -30,-1 -28.8,-8.3 -26,-15 -21.6,-20.8 -15.9,-25.4 -9.3,-28.5 -2.1,-29.9 5.2,-29.5 12.2,-27.4 18.5,-23.6 23.6,-18.5 27.4,-12.2 29.5,-5.2 29.9,2.1 28.5,9.3 25.4,15.9 20.8,21.6 15,26 8.3,28.8 1,30 -6.2,29.3 -13.2,27 -19.3,23 -24.3,17.6 -27.8,11.2 -29.7,4.2 -29.8,-3.1"/></g>
<g id="cell-8-7" transform="translate(780,700)"><polyline class="cv" points="30,0 28.8,7.3 25.4,14.1 20.1,20.1 13.2,24.9 5.2,28.2 -3.1,29.8 -11.2,29.7 -18.5,27.8 -24.3,24.3 -28.2,19.3 -29.9,13.2 -29.3,6.2 -26.5,-1 -21.6,-8.3 -15,-15 -7.3,-20.8 1,-25.4 9.3,-28.5 16.8,-29.9 23,-29.5 27.4,-27.4 29.7,-23.6 29.7,-18.5 27.4,-12.2 23,-5.2 16.8,2.1 9.3,9.3 1,15.9 -7.3,21.6 -15,26 -21.6,28.8 -26.5,30 -29.3,29.3 -29.9,27 -28.2,23 -24.3,17.6 -18.5,11.2 -11.2,4.2 -3.1,-3.1"/></g>
<g id="cell-9-7" transform="translate(860,700)"><polyline class="cv" points="30,0 28.5,7.3 24.3,14.1 17.6,20.1 9.3,24.9 0,28.2 -9.3,29.8 -17.6,29.7 -24.3,27.8 -28.5,24.3 -30,19.3 -28.5,13.2 -24.3,6.2 -17.6,-1 -9.3,-8.3 0,-15 9.3,-20.8 17.6,-25.4 24.3,-28.5 28.5,-29.9 30,-29.5 28.5,-27.4 24.3,-23.6 17.6,-18.5 9.3,-12.2 0,-5.2 -9.3,2.1 -17.6,9.3 -24.3,15.9 -28.5,21.6 -30,26 -28.5,28.8 -24.3,30 -17.6,29.3 -9.3,27 0,23 9.3,17.6 17.6,11.2 24.3,4.2 28.5,-3.1"/></g>

<g id="cell-1-8" transform="translate(220,780)"><polyline class="cv" points="30,0 30,8.3 29.9,15.9 29.8,22.3 29.7,27 29.5,29.5 29.3,29.8 29.1,27.8 28.8,23.6 28.5,17.6 28.2,10.3 27.8,2.1 27.4,-6.2 27,-14.1 26.5,-20.8 26,-26 25.4,-29.1 24.9,-30 24.3,-28.5 23.6,-24.9 23,-19.3 22.3,-12.2 21.6,-4.2 20.8,4.2 20.1,12.2 19.3,19.3 18.5,24.9 17.6,28.5 16.8,30 15.9,29.1 15,26 14.1,20.8 13.2,14.1 12.2,6.2 11.2,-2.1 10.3,-10.3 9.3,-17.6 8.3,-23.6 7.3,-27.8 6.2,-29.8"/></g>
<g id="cell-2-8" transform="translate(300,780)"><polyline class="cv" points="30,0 29.9,8.3 29.7,15.9 29.3,22.3 28.8,27 28.2,29.5 27.4,29.8 26.5,27.8 25.4,23.6 24.3,17.6 23,10.3 21.6,2.1 20.1,-6.2 18.5,-14.1 16.8,-20.8 15,-26 13.2,-29.1 11.2,-30 9.3,-28.5 7.3,-24.9 5.2,-19.3 3.1,-12.2 1,-4.2 -1,4.2 -3.1,12.2 -5.2,19.3 -7.3,24.9 -9.3,28.5 -11.2,30 -13.2,29.1 -15,26 -16.8,20.8 -18.5,14.1 -20.1,6.2 -21.6,-2.1 -23,-10.3 -24.3,-17.6 -25.4,-23.6 -26.5,-27.8 -27.4,-29.8"/></g>
<g id="cell-3-8" transform="translate(380,780)"><polyline class="cv" points="30,0 29.8,8.3 29.3,15.9 28.5,22.3 27.4,27 26,29.5 24.3,29.8 22.3,27.8 20.1,23.6 17.6,17.6 15,10.3 12.2,2.1 9.3,-6.2 6.2,-14.1 3.1,-20.8 0,-26 -3.1,-29.1 -6.2,-30 -9.3,-28.5 -12.2,-24.9 -15,-19.3 -17.6,-12.2 -20.1,-4.2 -22.3,4.2 -24.3,12.2 -26,19.3 -27.4,24.9 -28.5,28.5 -29.3,30 -29.8,29.1 -30,26 -29.8,20.8 -29.3,14.1 -28.5,6.2 -27.4,-2.1 -26,-10.3 -24.3,-17.6 -22.3,-23.6 -20.1,-27.8 -17.6,-29.8"/></g>
<g id="cell-4-8" transform="translate(460,780)"><polyline class="cv" points="30,0 29.7,8.3 28.8,15.9 27.4,22.3 25.4,27 23,29.5 20.1,29.8 16.8,27.8 13.2,23.6 9.3,17.6 5.2,10.3 1,2.1 -3.1,-6.2 -7.3,-14.1 -11.2,-20.8 -15,-26 -18.5,-29.1 -21.6,-30 -24.3,-28.5 -26.5,-24.9 -28.2,-19.3 -29.3,-12.2 -29.9,-4.2 -29.9,4.2 -29.3,12.2 -28.2,19.3 -26.5,24.9 -24.3,28.5 -21.6,30 -18.5,29.1 -15,26 -11.2,20.8 -7.3,14.1 -3.1,6.2 1,-2.1 5.2,-10.3 9.3,-17.6 13.2,-23.6 16.8,-27.8 20.1,-29.8"/></g>
<g id="cell-5-8" transform="translate(540,780)"><polyline class="cv" points="30,0 29.5,8.3 28.2,15.9 26,22.3 23,27 19.3,29.5 15,29.8 10.3,27.8 5.2,23.6 0,17.6 -5.2,10.3 -10.3,2.1 -15,-6.2 -19.3,-14.1 -23,-20.8 -26,-26 -28.2,-29.1 -29.5,-30 -30,-28.5 -29.5,-24.9 -28.2,-19.3 -26,-12.2 -23,-4.2 -19.3,4.2 -15,12.2 -10.3,19.3 -5.2,24.9 0,28.5 5.2,30 10.3,29.1 15,26 19.3,20.8 23,14.1 26,6.2 28.2,-2.1 29.5,-10.3 30,-17.6 29.5,-23.6 28.2,-27.8 26,-29.8"/></g>
<g id="cell-6-8" transform="translate(620,780)"><polyline class="cv" points="30,0 29.3,8.3 27.4,15.9 24.3,22.3 20.1,27 15,29.5 9.3,29.8 3.1,27.8 -3.1,23.6 -9.3,17.6 -15,10.3 -20.1,2.1 -24.3,-6.2 -27.4,-14.1 -29.3,-20.8 -30,-26 -29.3,-29.1 -27.4,-30 -24.3,-28.5 -20.1,-24.9 -15,-19.3 -9.3,-12.2 -3.1,-4.2 3.1,4.2 9.3,12.2 15,19.3 20.1,24.9 24.3,28.5 27.4,30 29.3,29.1 30,26 29.3,20.8 27.4,14.1 24.3,6.2 20.1,-2.1 15,-10.3 9.3,-17.6 3.1,-23.6 -3.1,-27.8 -9.3,-29.8"/></g>
<g id="cell-7-8" transform="translate(700,780)"><polyline class="cv" points="30,0 29.1,8.3 26.5,15.9 22.3,22.3 16.8,27 10.3,29.5 3.1,29.8 -4.2,27.8 -11.2,23.6 -17.6,17.6 -23,10.3 -27,2.1 -29.3,-6.2 -30,-14.1 -28.8,-20.8 -26,-26 -21.6,-29.1 -15.9,-30 -9.3,-28.5 -2.1,-24.9 5.2,-19.3 12.2,-12.2 18.5,-4.2 23.6,4.2 27.4,12.2 29.5,19.3 29.9,24.9 28.5,28.5 25.4,30 20.8,29.1 15,26 8.3,20.8 1,14.1 -6.2,6.2 -13.2,-2.1 -19.3,-10.3 -24.3,-17.6 -27.8,-23.6 -29.7,-27.8 -29.8,-29.8"/></g>
<g id="cell-8-8" transform="translate(780,780)"><polyline class="cv" points="30,0 28.8,8.3 25.4,15.9 20.1,22.3 13.2,27 5.2,29.5 -3.1,29.8 -11.2,27.8 -18.5,23.6 -24.3,17.6 -28.2,10.3 -29.9,2.1 -29.3,-6.2 -26.5,-14.1 -21.6,-20.8 -15,-26 -7.3,-29.1 1,-30 9.3,-28.5 16.8,-24.9 23,-19.3 27.4,-12.2 29.7,-4.2 29.7,4.2 27.4,12.2 23,19.3 16.8,24.9 9.3,28.5 1,30 -7.3,29.1 -15,26 -21.6,20.8 -26.5,14.1 -29.3,6.2 -29.9,-2.1 -28.2,-10.3 -24.3,-17.6 -18.5,-23.6 -11.2,-27.8 -3.1,-29.8"/></g>
<g id="cell-9-8" transform="translate(860,780)"><polyline class="cv" points="30,0 28.5,8.3 24.3,15.9 17.6,22.3 9.3,27 0,29.5 -9.3,29.8 -17.6,27.8 -24.3,23.6 -28.5,17.6 -30,10.3 -28.5,2.1 -24.3,-6.2 -17.6,-14.1 -9.3,-20.8 0,-26 9.3,-29.1 17.6,-30 24.3,-28.5 28.5,-24.9 30,-19.3 28.5,-12.2 24.3,-4.2 17.6,4.2 9.3,12.2 0,19.3 -9.3,24.9 -17.6,28.5 -24.3,30 -28.5,29.1 -30,26 -28.5,20.8 -24.3,14.1 -17.6,6.2 -9.3,-2.1 0,-10.3 9.3,-17.6 17.6,-23.6 24.3,-27.8 28.5,-29.8"/></g>

<g id="cell-1-9" transform="translate(220,860)"><polyline class="cv" points="30,0 30,9.3 29.9,17.6 29.8,24.3 29.7,28.5 29.5,30 29.3,28.5 29.1,24.3 28.8,17.6 28.5,9.3 28.2,0 27.8,-9.3 27.4,-17.6 27,-24.3 26.5,-28.5 26,-30 25.4,-28.5 24.9,-24.3 24.3,-17.6 23.6,-9.3 23,0 22.3,9.3 21.6,17.6 20.8,24.3 20.1,28.5 19.3,30 18.5,28.5 17.6,24.3 16.8,17.6 15.9,9.3 15,0 14.1,-9.3 13.2,-17.6 12.2,-24.3 11.2,-28.5 10.3,-30 9.3,-28.5 8.3,-24.3 7.3,-17.6 6.2,-9.3"/></g>
<g id="cell-2-9" transform="translate(300,860)"><polyline class="cv" points="30,0 29.9,9.3 29.7,17.6 29.3,24.3 28.8,28.5 28.2,30 27.4,28.5 26.5,24.3 25.4,17.6 24.3,9.3 23,0 21.6,-9.3 20.1,-17.6 18.5,-24.3 16.8,-28.5 15,-30 13.2,-28.5 11.2,-24.3 9.3,-17.6 7.3,-9.3 5.2,0 3.1,9.3 1,17.6 -1,24.3 -3.1,28.5 -5.2,30 -7.3,28.5 -9.3,24.3 -11.2,17.6 -13.2,9.3 -15,0 -16.8,-9.3 -18.5,-17.6 -20.1,-24.3 -21.6,-28.5 -23,-30 -24.3,-28.5 -25.4,-24.3 -26.5,-17.6 -27.4,-9.3"/></g>
<g id="cell-3-9" transform="translate(380,860)"><polyline class="cv" points="30,0 29.8,9.3 29.3,17.6 28.5,24.3 27.4,28.5 26,30 24.3,28.5 22.3,24.3 20.1,17.6 17.6,9.3 15,0 12.2,-9.3 9.3,-17.6 6.2,-24.3 3.1,-28.5 0,-30 -3.1,-28.5 -6.2,-24.3 -9.3,-17.6 -12.2,-9.3 -15,0 -17.6,9.3 -20.1,17.6 -22.3,24.3 -24.3,28.5 -26,30 -27.4,28.5 -28.5,24.3 -29.3,17.6 -29.8,9.3 -30,0 -29.8,-9.3 -29.3,-17.6 -28.5,-24.3 -27.4,-28.5 -26,-30 -24.3,-28.5 -22.3,-24.3 -20.1,-17.6 -17.6,-9.3"/></g>
<g id="cell-4-9" transform="translate(460,860)"><polyline class="cv" points="30,0 29.7,9.3 28.8,17.6 27.4,24.3 25.4,28.5 23,30 20.1,28.5 16.8,24.3 13.2,17.6 9.3,9.3 5.2,0 1,-9.3 -3.1,-17.6 -7.3,-24.3 -11.2,-28.5 -15,-30 -18.5,-28.5 -21.6,-24.3 -24.3,-17.6 -26.5,-9.3 -28.2,0 -29.3,9.3 -29.9,17.6 -29.9,24.3 -29.3,28.5 -28.2,30 -26.5,28.5 -24.3,24.3 -21.6,17.6 -18.5,9.3 -15,0 -11.2,-9.3 -7.3,-17.6 -3.1,-24.3 1,-28.5 5.2,-30 9.3,-28.5 13.2,-24.3 16.8,-17.6 20.1,-9.3"/></g>
<g id="cell-5-9" transform="translate(540,860)"><polyline class="cv" points="30,0 29.5,9.3 28.2,17.6 26,24.3 23,28.5 19.3,30 15,28.5 10.3,24.3 5.2,17.6 0,9.3 -5.2,0 -10.3,-9.3 -15,-17.6 -19.3,-24.3 -23,-28.5 -26,-30 -28.2,-28.5 -29.5,-24.3 -30,-17.6 -29.5,-9.3 -28.2,0 -26,9.3 -23,17.6 -19.3,24.3 -15,28.5 -10.3,30 -5.2,28.5 0,24.3 5.2,17.6 10.3,9.3 15,0 19.3,-9.3 23,-17.6 26,-24.3 28.2,-28.5 29.5,-30 30,-28.5 29.5,-24.3 28.2,-17.6 26,-9.3"/></g>
<g id="cell-6-9" transform="translate(620,860)"><polyline class="cv" points="30,0 29.3,9.3 27.4,17.6 24.3,24.3 20.1,28.5 15,30 9.3,28.5 3.1,24.3 -3.1,17.6 -9.3,9.3 -15,0 -20.1,-9.3 -24.3,-17.6 -27.4,-24.3 -29.3,-28.5 -30,-30 -29.3,-28.5 -27.4,-24.3 -24.3,-17.6 -20.1,-9.3 -15,0 -9.3,9.3 -3.1,17.6 3.1,24.3 9.3,28.5 15,30 20.1,28.5 24.3,24.3 27.4,17.6 29.3,9.3 30,0 29.3,-9.3 27.4,-17.6 24.3,-24.3 20.1,-28.5 15,-30 9.3,-28.5 3.1,-24.3 -3.1,-17.6 -9.3,-9.3"/></g>
<g id="cell-7-9" transform="translate(700,860)"><polyline class="cv" points="30,0 29.1,9.3 26.5,17.6 22.3,24.3 16.8,28.5 10.3,30 3.1,28.5 -4.2,24.3 -11.2,17.6 -17.6,9.3 -23,0 -27,-9.3 -29.3,-17.6 -30,-24.3 -28.8,-28.5 -26,-30 -21.6,-28.5 -15.9,-24.3 -9.3,-17.6 -2.1,-9.3 5.2,0 12.2,9.3 18.5,17.6 23.6,24.3 27.4,28.5 29.5,30 29.9,28.5 28.5,24.3 25.4,17.6 20.8,9.3 15,0 8.3,-9.3 1,-17.6 -6.2,-24.3 -13.2,-28.5 -19.3,-30 -24.3,-28.5 -27.8,-24.3 -29.7,-17.6 -29.8,-9.3"/></g>
<g id="cell-8-9" transform="translate(780,860)"><polyline class="cv" points="30,0 28.8,9.3 25.4,17.6 20.1,24.3 13.2,28.5 5.2,30 -3.1,28.5 -11.2,24.3 -18.5,17.6 -24.3,9.3 -28.2,0 -29.9,-9.3 -29.3,-17.6 -26.5,-24.3 -21.6,-28.5 -15,-30 -7.3,-28.5 1,-24.3 9.3,-17.6 16.8,-9.3 23,0 27.4,9.3 29.7,17.6 29.7,24.3 27.4,28.5 23,30 16.8,28.5 9.3,24.3 1,17.6 -7.3,9.3 -15,0 -21.6,-9.3 -26.5,-17.6 -29.3,-24.3 -29.9,-28.5 -28.2,-30 -24.3,-28.5 -18.5,-24.3 -11.2,-17.6 -3.1,-9.3"/></g>
<g id="cell-9-9" transform="translate(860,860)"><polyline class="cv" points="30,0 28.5,9.3 24.3,17.6 17.6,24.3 9.3,28.5 0,30 -9.3,28.5 -17.6,24.3 -24.3,17.6 -28.5,9.3 -30,0 -28.5,-9.3 -24.3,-17.6 -17.6,-24.3 -9.3,-28.5 0,-30 9.3,-28.5 17.6,-24.3 24.3,-17.6 28.5,-9.3 30,0 28.5,9.3 24.3,17.6 17.6,24.3 9.3,28.5 0,30 -9.3,28.5 -17.6,24.3 -24.3,17.6 -28.5,9.3 -30,0 -28.5,-9.3 -24.3,-17.6 -17.6,-24.3 -9.3,-28.5 0,-30 9.3,-28.5 17.6,-24.3 24.3,-17.6 28.5,-9.3"/></g>
</svg>
